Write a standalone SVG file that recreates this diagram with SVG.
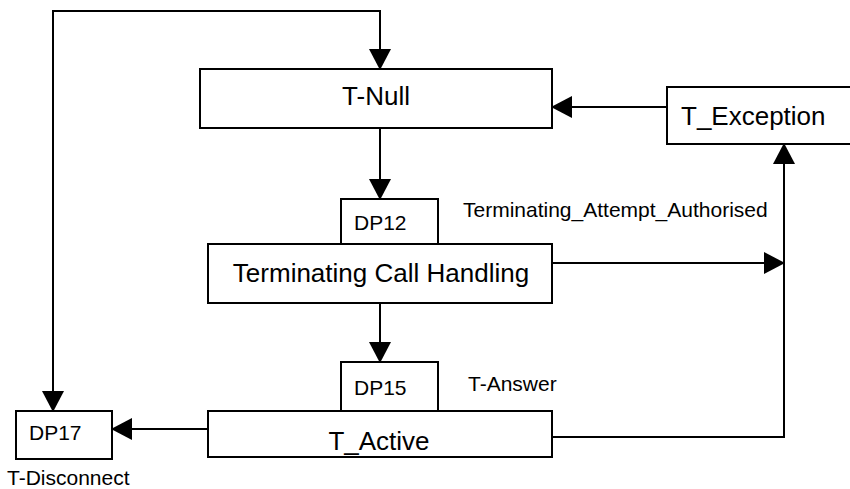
<svg xmlns="http://www.w3.org/2000/svg" width="850" height="489" viewBox="0 0 850 489">
<style>
.box{fill:#fff;stroke:#000;stroke-width:2}
.big{font-family:"Liberation Sans",Arial,sans-serif;font-size:26px;fill:#000}
.sm{font-family:"Liberation Sans",Arial,sans-serif;font-size:21px;fill:#000}
.ln{fill:none;stroke:#000;stroke-width:2}
</style>
<defs>
<marker id="ah" markerUnits="userSpaceOnUse" markerWidth="21" markerHeight="22" refX="20" refY="11" orient="auto-start-reverse">
<path d="M0,0 L21,11 L0,22 z" fill="#000"/>
</marker>
</defs>
<rect width="850" height="489" fill="#fff"/>
<g id="connectors">
<path class="ln" d="M53,411 L53,11 L380,11 L380,69" marker-start="url(#ah)" marker-end="url(#ah)"/>
<path class="ln" d="M380,128 L380,199" marker-end="url(#ah)"/>
<path class="ln" d="M667,107 L552,107" marker-end="url(#ah)"/>
<path class="ln" d="M552,263 L784,263" marker-end="url(#ah)"/>
<path class="ln" d="M552,437 L784,437 L784,144" marker-end="url(#ah)"/>
<path class="ln" d="M380,303 L380,362" marker-end="url(#ah)"/>
<path class="ln" d="M208,429 L112,429" marker-end="url(#ah)"/>
</g>
<g id="t-null">
<rect class="box" x="200" y="69" width="352" height="59"/>
<text class="big" x="376" y="105" text-anchor="middle">T-Null</text>
</g>
<g id="t-exception">
<rect class="box" x="667" y="87" width="195" height="57"/>
<text class="big" x="681" y="125">T_Exception</text>
</g>
<g id="dp12">
<rect class="box" x="341" y="199" width="97" height="45"/>
<text class="sm" x="354" y="230">DP12</text>
</g>
<g id="tch">
<rect class="box" x="208" y="244" width="344" height="59"/>
<text class="big" x="381" y="282" text-anchor="middle">Terminating Call Handling</text>
</g>
<g id="dp15">
<rect class="box" x="341" y="362" width="97" height="49"/>
<text class="sm" x="354" y="395">DP15</text>
</g>
<g id="t-active">
<rect class="box" x="208" y="411" width="344" height="46"/>
<text class="big" x="379" y="450" text-anchor="middle">T_Active</text>
</g>
<g id="dp17">
<rect class="box" x="16" y="411" width="96" height="48"/>
<text class="sm" x="29" y="440">DP17</text>
</g>
<g id="labels">
<text class="sm" x="463" y="217">Terminating_Attempt_Authorised</text>
<text class="sm" x="468" y="391">T-Answer</text>
<text class="sm" x="7" y="485">T-Disconnect</text>
</g>
</svg>
